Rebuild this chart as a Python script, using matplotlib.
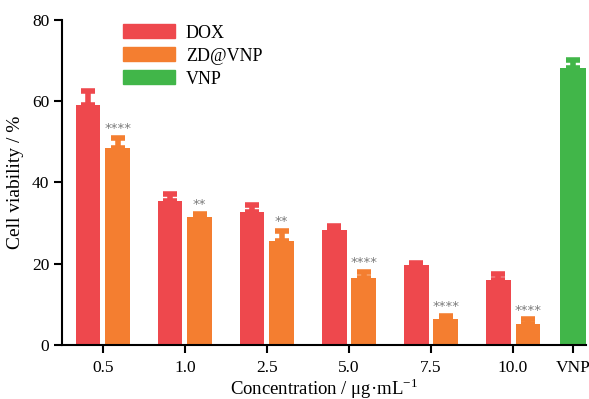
import matplotlib
matplotlib.use("Agg")
import matplotlib.pyplot as plt
from matplotlib.patches import Patch

plt.rcParams['font.family'] = ['Liberation Serif', 'DejaVu Serif']
plt.rcParams['mathtext.fontset'] = 'custom'
plt.rcParams['mathtext.rm'] = 'Liberation Serif'

# data
concentrations = ['0.5', '1.0', '2.5', '5.0', '7.5', '10.0']
dox_mean = [59.0, 35.3, 32.8, 28.3, 19.7, 16.0]
dox_err = [3.5, 1.8, 1.6, 0.9, 0.5, 1.4]
zd_mean = [48.4, 31.6, 25.7, 16.5, 6.3, 5.2]
zd_err = [2.5, 0.6, 2.3, 1.5, 0.9, 1.1]
zd_stars = ['****', '**', '**', '****', '****', '****']
vnp_mean = 68.0
vnp_err = 2.0

RED = '#EE484D'
ORANGE = '#F47E30'
GREEN = '#41B649'
W = 0.30
OFF = 0.18
VNP_X = 5.73

fig = plt.figure(figsize=(5.89, 3.99), dpi=100)
ax = fig.add_axes([0.105, 0.135, 0.89, 0.816])

xs = list(range(len(concentrations)))
dox_x = [x - OFF for x in xs]
zd_x = [x + OFF for x in xs]

ax.bar(dox_x, dox_mean, width=W, color=RED, zorder=2)
ax.bar(zd_x, zd_mean, width=W, color=ORANGE, zorder=2)
ax.bar([VNP_X], [vnp_mean], width=W * 1.08, color=GREEN, zorder=2)

# upper-only error bars in bar colour
ekw = dict(fmt='none', lw=4, capsize=5, capthick=4, zorder=3)
ax.errorbar(dox_x, dox_mean, yerr=[[0] * len(dox_err), dox_err], ecolor=RED, **ekw)
ax.errorbar(zd_x, zd_mean, yerr=[[0] * len(zd_err), zd_err], ecolor=ORANGE, **ekw)
ax.errorbar([VNP_X], [vnp_mean], yerr=[[0], [vnp_err]], ecolor=GREEN, **ekw)

for x, m, e, s in zip(zd_x, zd_mean, zd_err, zd_stars):
    ax.text(x, m + e + 0.7, s, ha='center', va='bottom', fontsize=9.5,
            color='#7a7a7a', family='DejaVu Sans')

ax.set_xlim(-0.5, 5.89)
ax.set_ylim(0, 80)
ax.set_yticks([0, 20, 40, 60, 80])
ax.set_xticks(xs + [VNP_X])
ax.set_xticklabels(concentrations + ['VNP'])

for s in ['top', 'right']:
    ax.spines[s].set_visible(False)
for s in ['left', 'bottom']:
    ax.spines[s].set_linewidth(1.5)
ax.tick_params(width=1.5, length=6, labelsize=12.5)
ax.tick_params(axis='x', pad=5)
ax.tick_params(axis='y', pad=3)

ax.set_ylabel('Cell viability / %', fontsize=14, labelpad=6)
ax.set_xlabel('Concentration / μg·mL$^{\\mathrm{-1}}$', fontsize=13.5, labelpad=0)

handles = [Patch(color=RED, label='DOX'),
           Patch(color=ORANGE, label='ZD@VNP'),
           Patch(color=GREEN, label='VNP')]
ax.legend(handles=handles, loc='upper left', bbox_to_anchor=(0.085, 1.035),
          frameon=False, fontsize=13, handlelength=2.9, handleheight=0.8,
          labelspacing=0.32, handletextpad=0.6)

fig.savefig('out.png', dpi=100)
